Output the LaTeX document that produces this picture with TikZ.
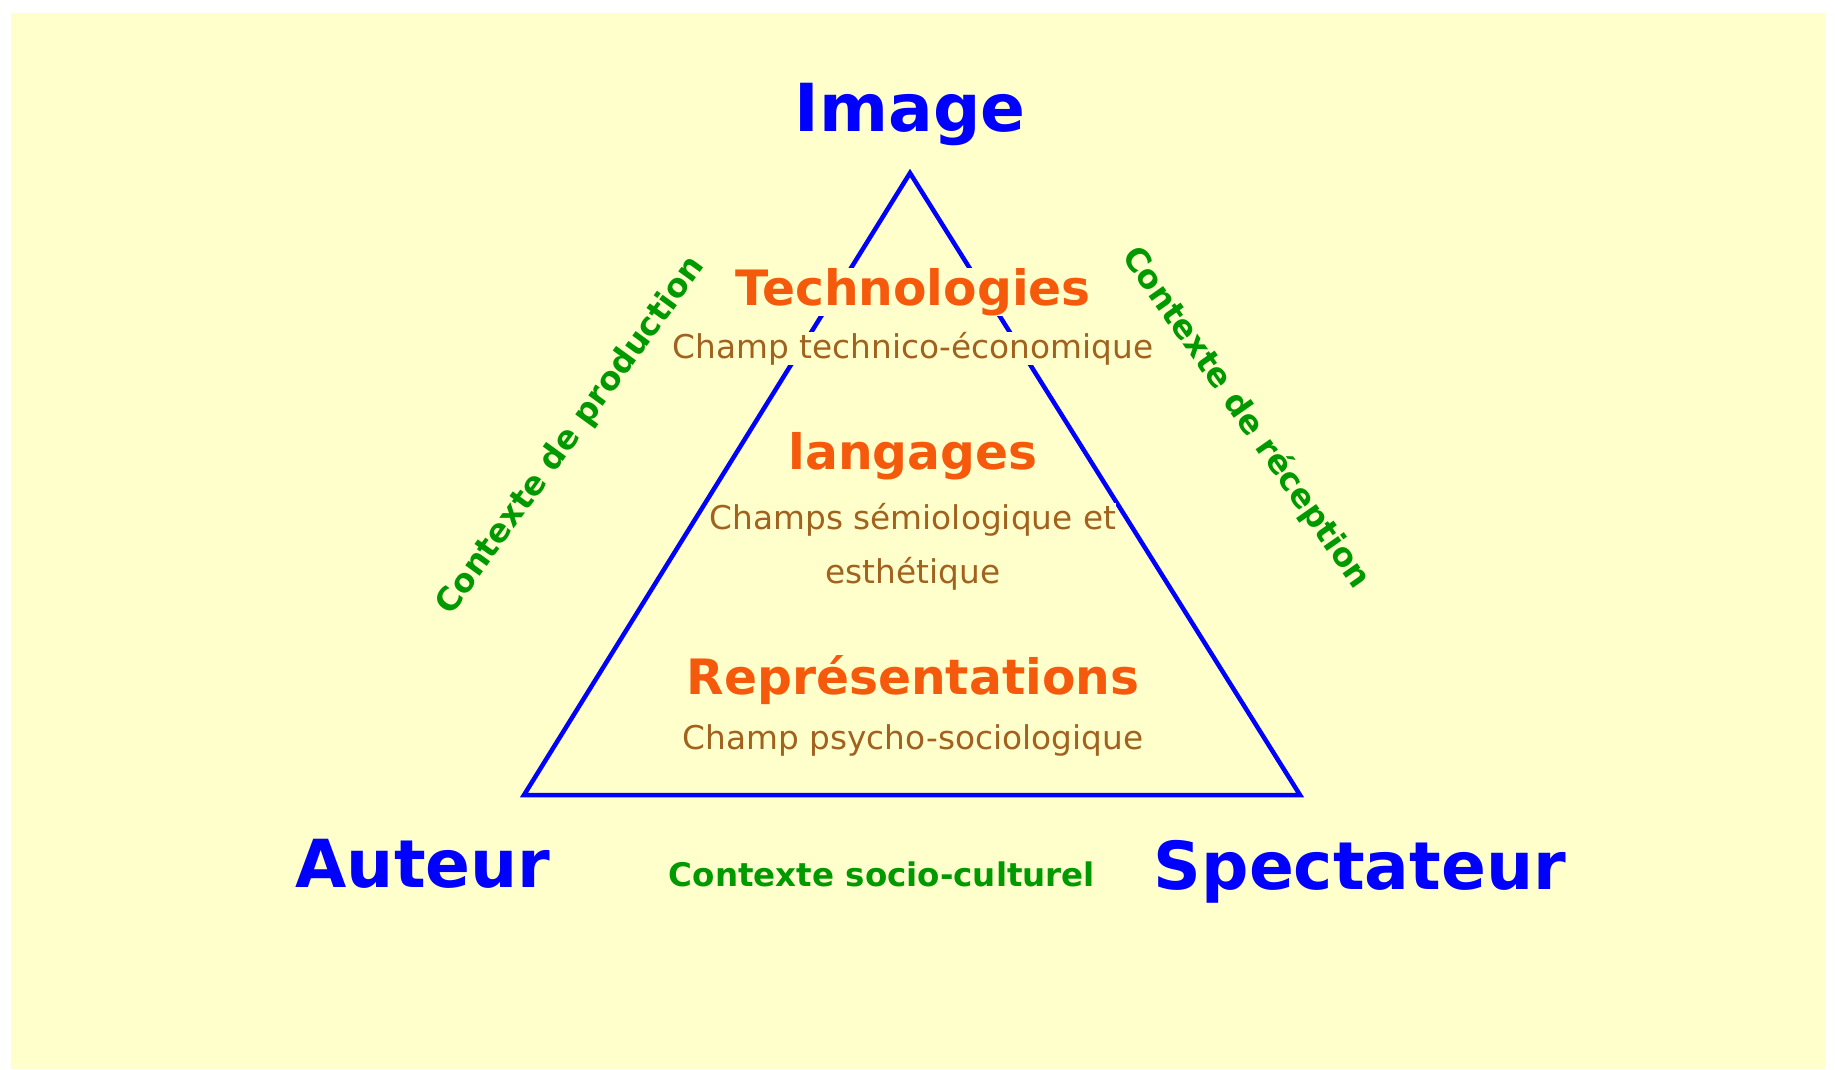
\documentclass[tikz,border=0pt]{standalone}
\usepackage{fontspec}
\setmainfont{DejaVu Sans}
\usepackage{tikz}
\usetikzlibrary{positioning}

\definecolor{paper}{HTML}{FFFFCC}
\definecolor{polecolor}{HTML}{0000FF}
\definecolor{fieldcolor}{HTML}{F55A0C}
\definecolor{champcolor}{HTML}{A2621F}
\definecolor{contextcolor}{HTML}{009900}

\begin{document}
\begin{tikzpicture}
        [ x = .4pt
        , y = -.4pt
        , pole/.style =
          { text=polecolor, font=\fontsize{26.5}{30}\selectfont\bfseries }
        , field/.style =
          { text=fieldcolor, fill=paper, inner sep=0pt
          , font=\fontsize{19.5}{22}\selectfont\bfseries }
        , champ/.style =
          { text=champcolor, fill=paper, inner sep=0pt
          , font=\fontsize{13.1}{15}\selectfont }
        , context/.style =
          { text=contextcolor, font=\fontsize{13}{15}\selectfont\bfseries }
        , side/.style =
          { draw=polecolor, line width=1.8pt }
        ]
        \useasboundingbox (0,0) rectangle (1835,1069);
        \fill [paper] (11,13) rectangle (1825,1069);

        \coordinate (apex) at (910,173);
        \coordinate (baseleft) at (524,795);
        \coordinate (baseright) at (1300,795);
        \draw [side] (apex) -- (baseright) -- (baseleft) -- cycle;

        % the three poles
        \node [pole, anchor=base] (image) at (910,131) {Image};
        \node [pole, anchor=base] (auteur) at (423,887) {Auteur};
        \node [pole, anchor=base] (spectateur) at (1360,889) {Spectateur};

        % the fields inside the triangle
        \node [field, anchor=base] (techno) at (913,305) {Technologies};
        \node [champ, anchor=base] (technoeco) at (913,358) {Champ technico-économique};
        \node [field, anchor=base] (langages) at (913,469) {langages};
        \node [champ, anchor=base] (semio) at (913,529) {Champs sémiologique et};
        \node [champ, anchor=base] (esth) at (913,583) {esthétique};
        \node [field, anchor=base] (repr) at (913,694) {Représentations};
        \node [champ, anchor=base] (psycho) at (913,749) {Champ psycho-sociologique};

        % the contexts
        \node [context, rotate=54] (production) at (571,436) {Contexte de production};
        \node [context, rotate=-55] (reception) at (1246,418) {Contexte de réception};
        \node [context, anchor=base] (socio) at (882,886) {Contexte socio-culturel};
\end{tikzpicture}
\end{document}
